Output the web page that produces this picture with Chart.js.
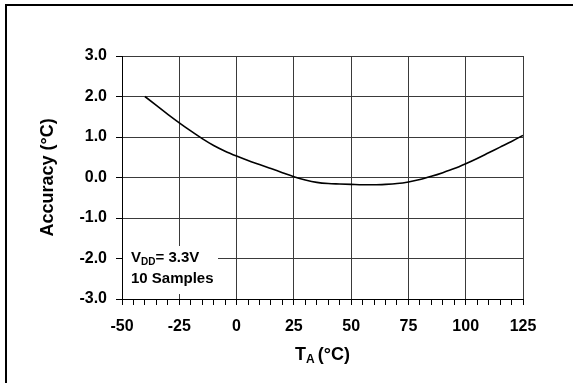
<!DOCTYPE html>
<html>
<head>
<meta charset="utf-8">
<script src="https://cdn.jsdelivr.net/npm/chart.js@4.4.1/dist/chart.umd.min.js"></script>
<style>
    html, body { margin: 0; padding: 0; background: #fff; overflow: hidden; }
    #wrap { width: 573px; height: 383px; position: relative; }
</style>
</head>
<body>
<div id="wrap"><canvas id="accChart" width="573" height="383"></canvas></div>
<script>
// temperature (°C) and accuracy (°C)
const temps = [-40, -35, -30, -25, -20, -15, -10, -5, 0, 5, 10, 15, 20, 25, 30, 35, 40,
               45, 50, 55, 60, 65, 70, 75, 80, 85, 90, 95, 100, 105, 110, 115, 120, 125];
const accuracy = [2.0, 1.78, 1.56, 1.35, 1.15, 0.96, 0.79, 0.65, 0.53, 0.42, 0.32, 0.22, 0.12, 0.02, -0.06, -0.12, -0.15,
                  -0.16, -0.17, -0.18, -0.18, -0.17, -0.15, -0.11, -0.05, 0.03, 0.12, 0.22, 0.34, 0.47, 0.61, 0.75, 0.89, 1.04];
const xTicks = [-50, -25, 0, 25, 50, 75, 100, 125];
const yTicks = [-3, -2, -1, 0, 1, 2, 3];
const noteLines = ['= 3.3V', '10 Samples'];

const FONT = '"Liberation Sans", Arial, sans-serif';

const points = temps.map(function (t, i) { return { x: t, y: accuracy[i] }; });

function isMajorX(v) { return xTicks.indexOf(v) !== -1; }
function isMajorY(v) { return yTicks.some(function (t) { return Math.abs(t - v) < 1e-6; }); }

// frame, x axis title with subscript, and the little note box
const extras = {
    id: 'extras',
    beforeDraw: function (chart) {
        const c = chart.ctx;
        c.save();
        c.strokeStyle = '#000';
        c.lineWidth = 2;
        c.strokeRect(6, 5, 620, 420);
        c.restore();
    },
    afterDraw: function (chart) {
        const c = chart.ctx;
        const area = chart.chartArea;
        c.save();
        c.fillStyle = '#000';
        c.textBaseline = 'alphabetic';

        // x title: T_A (°C)
        const cx = (area.left + area.right) / 2;
        c.font = 'bold 18px ' + FONT;
        const wT = c.measureText('T').width;
        const wRest = c.measureText('(°C)').width;
        c.font = 'bold 12px ' + FONT;
        const wA = c.measureText('A').width;
        const total = wT + wA + 3 + wRest;
        let x = cx - total / 2;
        const base = 360;
        c.font = 'bold 18px ' + FONT;
        c.fillText('T', x, base);
        x += wT;
        c.font = 'bold 12px ' + FONT;
        c.fillText('A', x, base + 3);
        x += wA + 3;
        c.font = 'bold 18px ' + FONT;
        c.fillText('(°C)', x, base);

        // note box
        c.fillStyle = '#fff';
        c.fillRect(area.left + 1, area.bottom - 53, 95, 48);
        c.fillStyle = '#000';
        let nx = area.left + 9;
        c.font = 'bold 15px ' + FONT;
        c.fillText('V', nx, area.bottom - 37);
        nx += c.measureText('V').width;
        c.font = 'bold 10px ' + FONT;
        c.fillText('DD', nx, area.bottom - 34);
        nx += c.measureText('DD').width;
        c.font = 'bold 15px ' + FONT;
        c.fillText(noteLines[0], nx, area.bottom - 37);
        c.fillText(noteLines[1], area.left + 9, area.bottom - 16);
        c.restore();
    }
};

window.onload = function () {
    const ctx = document.getElementById('accChart').getContext('2d');

    const accChart = new Chart(ctx, {
        type: 'line',
        data: {
            datasets: [{
                label: 'Accuracy',
                data: points,
                borderColor: '#000',
                borderWidth: 1.6,
                pointRadius: 0,
                fill: false,
                cubicInterpolationMode: 'monotone'
            }]
        },
        options: {
            responsive: false,
            animation: false,
            layout: { padding: { top: 56, right: 50, bottom: 0, left: 0 } },
            plugins: {
                legend: { display: false },
                tooltip: { enabled: false }
            },
            scales: {
                x: {
                    type: 'linear',
                    min: -50,
                    max: 125,
                    afterFit: function (scale) { scale.height = 84; },
                    ticks: {
                        stepSize: 5,
                        autoSkip: false,
                        maxRotation: 0,
                        padding: 12,
                        color: '#000',
                        font: { family: FONT, size: 16, weight: 'bold' },
                        callback: function (v) { return isMajorX(v) ? String(v) : ''; }
                    },
                    grid: {
                        color: function (c) { return c.tick && isMajorX(c.tick.value) ? '#3a3a3a' : 'rgba(0,0,0,0)'; },
                        tickColor: '#000',
                        tickLength: 6,
                        lineWidth: 1
                    },
                    border: { color: '#000', width: 1 }
                },
                y: {
                    min: -3,
                    max: 3,
                    afterFit: function (scale) { scale.width = 122; },
                    ticks: {
                        stepSize: 0.5,
                        padding: 9,
                        color: '#000',
                        font: { family: FONT, size: 16, weight: 'bold' },
                        callback: function (v) { return isMajorY(v) ? v.toFixed(1) : ''; }
                    },
                    grid: {
                        color: function (c) { return c.tick && isMajorY(c.tick.value) ? '#3a3a3a' : 'rgba(0,0,0,0)'; },
                        tickColor: '#000',
                        tickLength: 6,
                        lineWidth: 1
                    },
                    border: { color: '#000', width: 1 },
                    title: {
                        display: true,
                        text: 'Accuracy (°C)',
                        color: '#000',
                        font: { family: FONT, size: 18, weight: 'bold' },
                        padding: { top: 37, bottom: 0 }
                    }
                }
            }
        },
        plugins: [extras]
    });
};
</script>
</body>
</html>
